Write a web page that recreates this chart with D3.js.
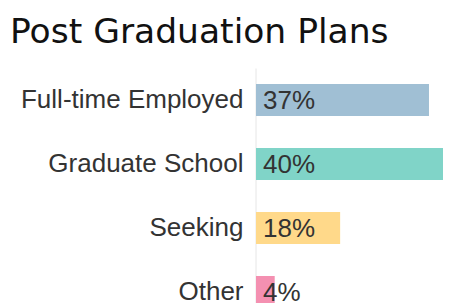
<!DOCTYPE html>
<html><head><meta charset="utf-8">
<script src="https://cdn.jsdelivr.net/npm/d3@7"></script>
<style>
html,body{margin:0;padding:0;background:#fff;overflow:hidden}
</style></head>
<body>
<script>
const categories = ["Full-time Employed", "Graduate School", "Seeking", "Other"];
const values = [37, 40, 18, 4];
const colors = ["#a0bfd4", "#80d4c8", "#ffd98a", "#f490b1"];
const title = "Post Graduation Plans";

const W = 456, H = 303;
const svg = d3.select("body").append("svg").attr("width", W).attr("height", H);

svg.append("text").attr("x", 10).attr("y", 43)
  .attr("font-family", "DejaVu Sans").attr("font-size", 34.5).attr("fill", "#111")
  .text(title);

const x = d3.scaleLinear().domain([0, 40]).range([256, 443]);
const y = d3.scaleBand().domain(categories).range([68, 324]).paddingInner(0.5).paddingOuter(0.25);

const axis = d3.axisLeft(y).tickSize(0).tickPadding(12);
const g = svg.append("g").attr("transform", "translate(255.5,0)").call(axis);
g.select(".domain").attr("stroke", "#e6e6e6");
g.selectAll("text").attr("font-family", "Liberation Sans, Arial").attr("font-size", 26).attr("fill", "#333");

const data = categories.map((c, i) => ({c, v: values[i], col: colors[i]}));
svg.selectAll("rect.bar").data(data).join("rect").attr("class", "bar")
  .attr("x", x(0)).attr("y", d => y(d.c)).attr("width", d => x(d.v) - x(0))
  .attr("height", y.bandwidth()).attr("fill", d => d.col);

svg.selectAll("text.val").data(data).join("text").attr("class", "val")
  .attr("x", x(0) + 7).attr("y", d => y(d.c) + y.bandwidth() / 2).attr("dy", "0.35em")
  .attr("font-family", "Liberation Sans, Arial").attr("font-size", 26).attr("fill", "#333")
  .text(d => d.v + "%");
</script>
</body></html>
